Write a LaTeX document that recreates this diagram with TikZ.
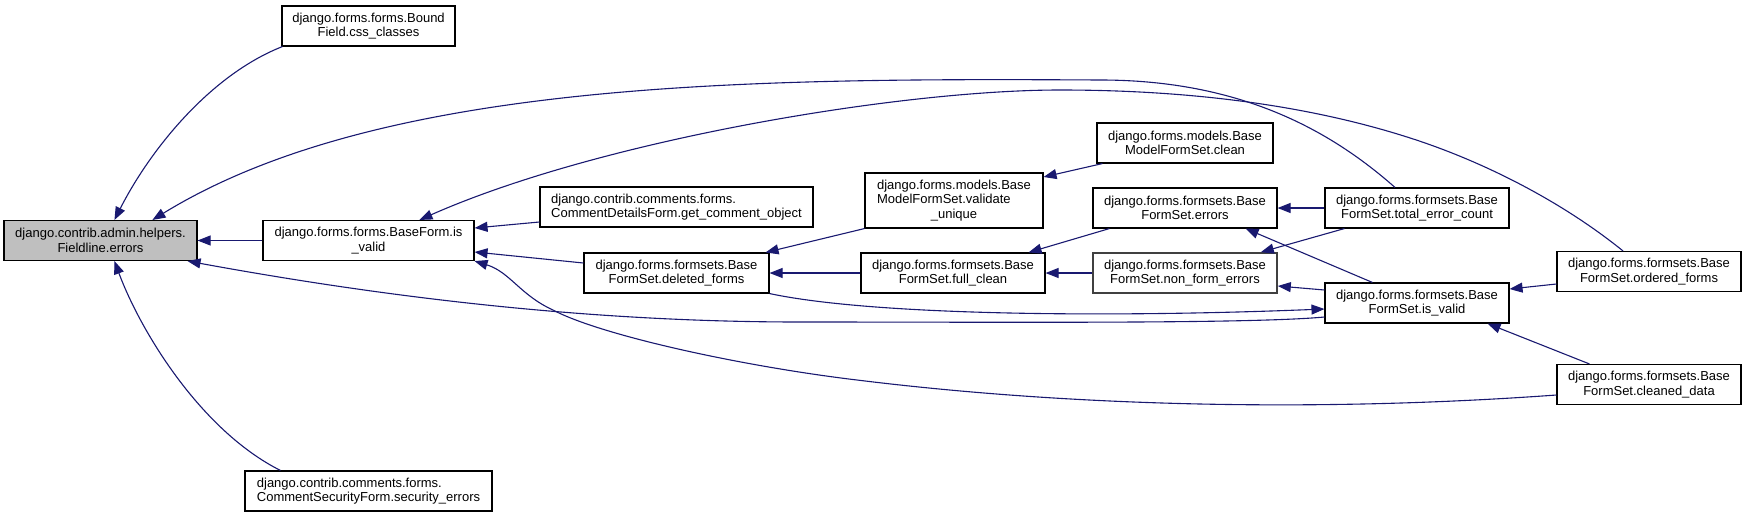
\documentclass[tikz,border=0pt]{standalone}
\usepackage{fontspec}
\setmainfont{Liberation Sans}
\usepackage{calc}
\usetikzlibrary{arrows.meta}
\definecolor{edgecol}{HTML}{191970}
\definecolor{rootfill}{HTML}{BFBFBF}
\begin{document}
\begin{tikzpicture}[x=1pt,y=-1pt,
  box/.style={draw=black, line width=1.1pt, fill=white, inner sep=0pt,
    font=\fontsize{13}{14.5}\selectfont, align=center, minimum height=40pt},
  rootbox/.style={box, fill=rootfill},
  leftbox/.style={box, align=left},
  grayborder/.style={box, draw=black!75, line width=1.6pt},
  calledge/.style={draw=edgecol, line width=1.1pt, -{Triangle[length=13pt,width=10pt]}}]
\useasboundingbox (0,0) rectangle (1747,517);

% nodes
\node[rootbox, minimum width=193pt] (fl) at (100.5,240.5) {django.contrib.admin.helpers.\\Fieldline.errors};
\node[box, minimum width=173pt] (bf) at (368.5,26) {django.forms.forms.Bound\\Field.css\_classes};
\node[box, minimum width=211pt] (bfv) at (368.5,240.5) {django.forms.forms.BaseForm.is\\\_valid};
\node[leftbox, minimum width=273pt] (cd) at (676.5,207) {django.contrib.comments.forms.\\CommentDetailsForm.get\_comment\_object};
\node[box, minimum width=185pt] (df) at (676.5,273) {django.forms.formsets.Base\\FormSet.deleted\_forms};
\node[box, minimum width=178pt, minimum height=55pt] (vu) at (954,200.5)
  {django.forms.models.Base\\\makebox[\widthof{django.forms.models.Base}][l]{ModelFormSet.validate}\\\_unique};
\node[box, minimum width=184pt] (fc) at (953,273) {django.forms.formsets.Base\\FormSet.full\_clean};
\node[box, minimum width=176pt] (mc) at (1185,143) {django.forms.models.Base\\ModelFormSet.clean};
\node[box, minimum width=184pt] (er) at (1185,208) {django.forms.formsets.Base\\FormSet.errors};
\node[grayborder, minimum width=184pt] (nfe) at (1185,273) {django.forms.formsets.Base\\FormSet.non\_form\_errors};
\node[box, minimum width=184pt] (tec) at (1417,208) {django.forms.formsets.Base\\FormSet.total\_error\_count};
\node[box, minimum width=184pt] (fiv) at (1417,303) {django.forms.formsets.Base\\FormSet.is\_valid};
\node[box, minimum width=184pt] (of) at (1649,271.5) {django.forms.formsets.Base\\FormSet.ordered\_forms};
\node[box, minimum width=184pt] (cln) at (1649,384.5) {django.forms.formsets.Base\\FormSet.cleaned\_data};
\node[leftbox, minimum width=247pt] (cs) at (368.5,491) {django.contrib.comments.forms.\\CommentSecurityForm.security\_errors};

% edges
\draw[calledge] ([xshift=1pt]bf.south west) .. controls (210,75) and (150,150) .. ([xshift=111pt]fl.north west);
\draw[calledge] (bfv.west) -- (fl.east);
\draw[calledge] ([xshift=36pt]cs.north west) .. controls (200,430) and (140,330) .. ([xshift=111pt]fl.south west);
\draw[calledge] ([xshift=-22pt]tec.north) .. controls (1330,130) and (1240,80) .. (1100,80)
  .. controls (750,78) and (380,80) .. ([xshift=149pt]fl.north west);
\draw[calledge] ([xshift=-26pt]of.north) .. controls (1560,200) and (1480,160) .. (1407,137)
  .. controls (1300,103) and (1180,90) .. (1060,90)
  .. controls (900,90) and (600,140) .. ([xshift=157pt]bfv.north west);
\draw[calledge] ([yshift=-15pt]cd.west) -- ([yshift=12.5pt]bfv.east);
\draw[calledge] ([yshift=10pt]df.west) -- ([yshift=-11.5pt]bfv.east);
\draw[calledge] (vu.south west) -- ([xshift=-4pt]df.north east);
\draw[calledge] ([xshift=6pt]mc.south west) -- ([yshift=23.5pt]vu.east);
\draw[calledge] (fc.west) -- (df.east);
\draw[calledge] ([xshift=17pt]er.south west) -- ([xshift=-17pt]fc.north east);
\draw[calledge] (nfe.west) -- (fc.east);
\draw[calledge] (tec.west) -- (er.east);
\draw[calledge] ([xshift=20pt]tec.south west) -- ([xshift=-17pt]nfe.north east);
\draw[calledge] ([xshift=48pt]fiv.north west) -- ([xshift=-32pt]er.south east);
\draw[calledge] ([yshift=13pt]fiv.west) -- ([yshift=-13pt]nfe.east);
\draw[calledge] ([yshift=-12.5pt]of.west) -- ([yshift=14pt]fiv.east);
\draw[calledge] ([xshift=33pt]cln.north west) -- ([xshift=-22pt]fiv.south east);
\draw[calledge] (df.south east) .. controls (870,315) and (1100,318) .. ([yshift=-6pt]fiv.west);
\draw[calledge] ([yshift=-14pt]fiv.west) .. controls (1250,324) and (1000,322) .. (800,322)
  .. controls (600,322) and (400,300) .. ([xshift=-10pt]fl.south east);
\draw[calledge] ([yshift=-10.5pt]cln.west) .. controls (1350,410) and (1100,410) .. (857,380)
  .. controls (740,366) and (600,335) .. (553,310)
  .. controls (520,295) and (510,272) .. (bfv.south east);
\end{tikzpicture}
\end{document}
